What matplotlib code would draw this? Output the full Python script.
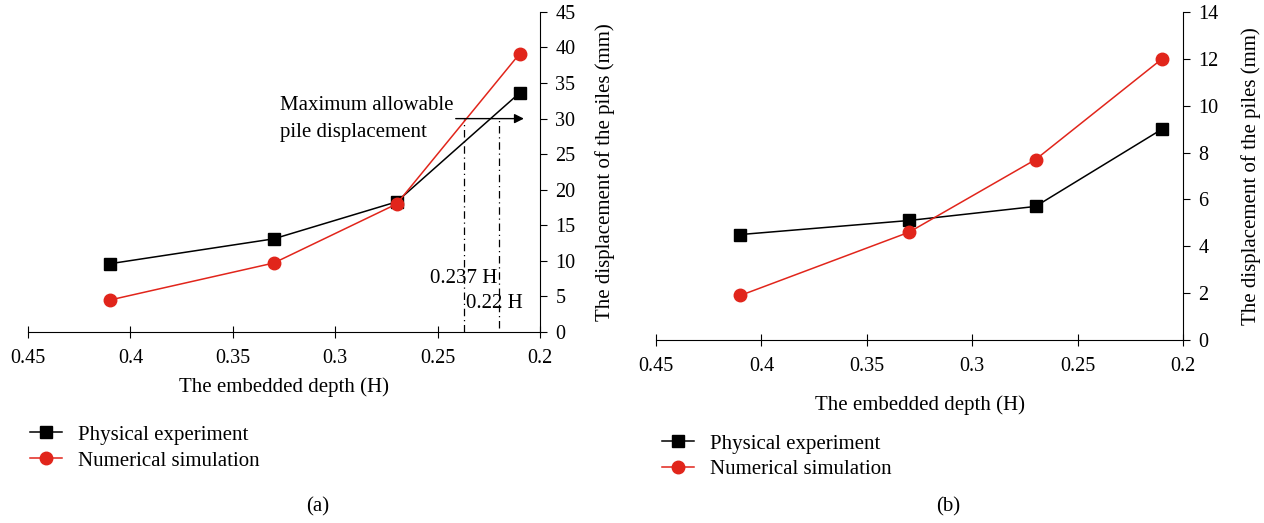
import matplotlib.pyplot as plt

plt.rcParams['font.family'] = ['Liberation Serif', 'DejaVu Serif']
plt.rcParams['font.size'] = 15

depth = [0.41, 0.33, 0.27, 0.21]

# panel (a)
phys_a = [9.6, 13.1, 18.3, 33.6]
num_a = [4.5, 9.7, 18.0, 39.1]
# panel (b)
phys_b = [4.5, 5.1, 5.7, 9.0]
num_b = [1.9, 4.6, 7.7, 12.0]

xticks = [0.45, 0.4, 0.35, 0.3, 0.25, 0.2]
xticklabels = ['0.45', '0.4', '0.35', '0.3', '0.25', '0.2']
yticks_a = list(range(0, 46, 5))
yticks_b = list(range(0, 15, 2))

limit = 30
cross_depths = [0.237, 0.22]

red = '#e1251b'


def style_axes(ax, yticks, ymax, xpad, ypad):
    ax.set_xlim(0.45, 0.2)
    ax.set_ylim(0, ymax)
    ax.set_xticks(xticks)
    ax.set_xticklabels(xticklabels)
    ax.set_yticks(yticks)
    ax.yaxis.tick_right()
    ax.yaxis.set_label_position('right')
    for s in ['top', 'left']:
        ax.spines[s].set_visible(False)
    ax.tick_params(axis='x', direction='inout', length=8, pad=8, labelsize=14.5)
    ax.tick_params(axis='y', direction='out', length=5, pad=6, labelsize=14.5)
    ax.set_xlabel('The embedded depth (H)', labelpad=xpad)
    ax.set_ylabel('The displacement of the piles (mm)', labelpad=ypad)


def draw(ax, phys, num):
    l1, = ax.plot(depth, phys, color='black', marker='s', markersize=8.5,
                  lw=1.1, label='Physical experiment', clip_on=False, zorder=3)
    l2, = ax.plot(depth, num, color=red, marker='o', markersize=9,
                  lw=1.1, label='Numerical simulation', clip_on=False, zorder=3)
    return l1, l2


fig = plt.figure(figsize=(12.64, 5.23), dpi=100)
ax1 = fig.add_axes([0.0222, 0.3652, 0.405, 0.612])
ax2 = fig.add_axes([0.519, 0.350, 0.417, 0.627])

draw(ax1, phys_a, num_a)
style_axes(ax1, yticks_a, 45, 7, 14)

# limit annotation
ax1.annotate('', xy=(0.2065, limit), xytext=(0.2425, limit),
             arrowprops=dict(arrowstyle='-|>', color='black', lw=1.0,
                             mutation_scale=14))
ax1.text(0.327, 33.2, 'Maximum allowable\npile displacement', ha='left', va='top',
         linespacing=1.55)
ax1.plot([cross_depths[0]] * 2, [0, limit], color='black', lw=0.9,
         ls=(0, (6, 3, 1, 3)))
ax1.plot([cross_depths[1]] * 2, [0.6, limit], color='black', lw=0.9,
         ls=(0, (6, 3, 1, 3)))
ax1.text(cross_depths[1] + 0.0008, 7.5, '0.237 H', ha='right', va='center')
ax1.text(cross_depths[0] - 0.001, 4.0, '0.22 H', ha='left', va='center')

h = draw(ax2, phys_b, num_b)
style_axes(ax2, yticks_b, 14, 14, 16)

for x0, y0 in [(0.017, 0.203), (0.517, 0.186)]:
    fig.legend(handles=h, loc='upper left', bbox_to_anchor=(x0, y0),
               frameon=False, handlelength=1.55, handletextpad=0.75,
               labelspacing=0.3, borderaxespad=0)

fig.text(0.251, 0.030, '(a)', ha='center', va='center')
fig.text(0.750, 0.030, '(b)', ha='center', va='center')

fig.savefig('out.png', dpi=100)
